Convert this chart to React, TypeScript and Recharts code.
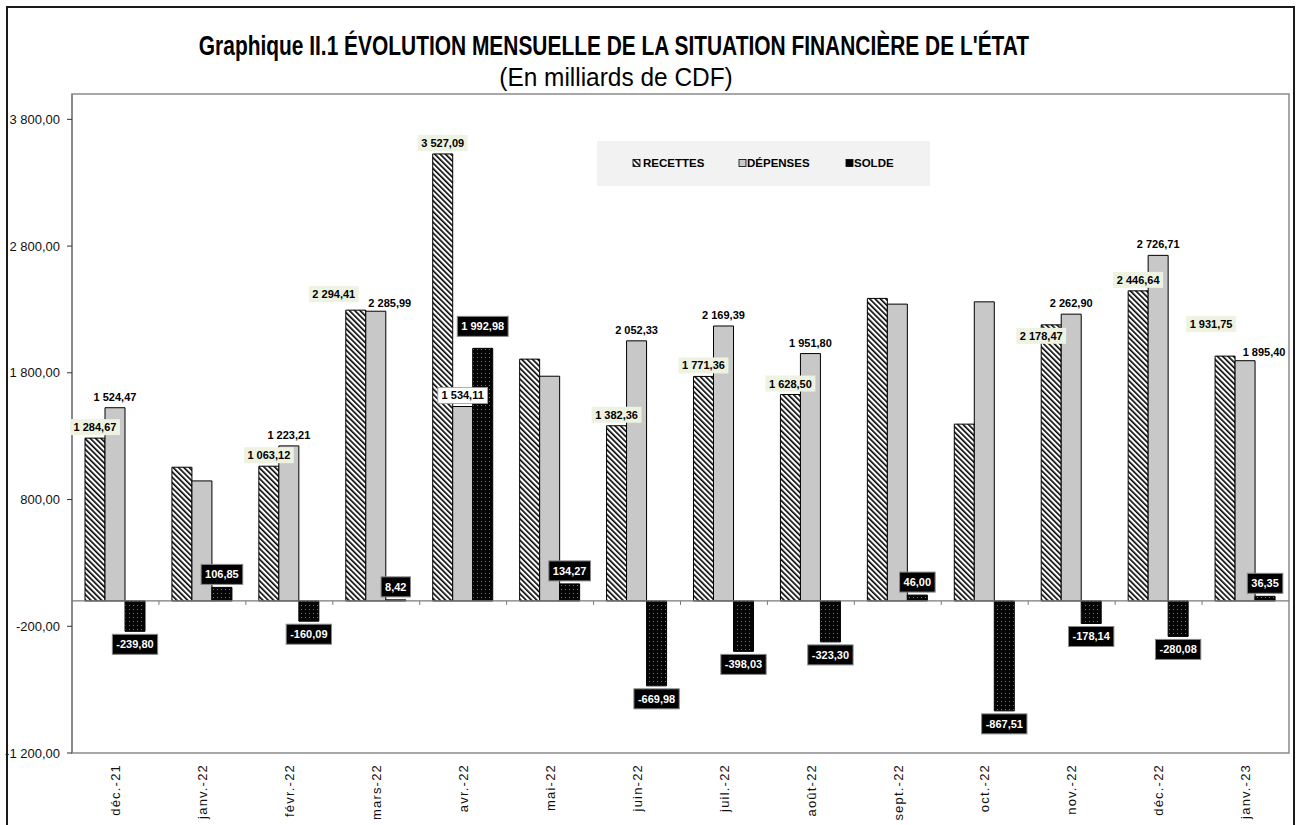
import React from 'react';
import { BarChart, Bar, XAxis, YAxis, ReferenceLine, ReferenceArea, LabelList } from 'recharts';

const months = ['déc.-21', 'janv.-22', 'févr.-22', 'mars-22', 'avr.-22', 'mai-22', 'juin-22', 'juil.-22', 'août-22', 'sept.-22', 'oct.-22', 'nov.-22', 'déc.-22', 'janv.-23'];
const recettes = [1284.67, 1055, 1063.12, 2294.41, 3527.09, 1908, 1382.36, 1771.36, 1628.5, 2387, 1395, 2178.47, 2446.64, 1931.75];
const depenses = [1524.47, 947, 1223.21, 2285.99, 1534.11, 1773, 2052.33, 2169.39, 1951.8, 2342, 2360, 2262.9, 2726.71, 1895.4];
const solde = [-239.8, 106.85, -160.09, 8.42, 1992.98, 134.27, -669.98, -398.03, -323.3, 46, -867.51, -178.14, -280.08, 36.35];
const showValueLabel = [true, false, true, true, true, false, true, true, true, false, false, true, true, true];
const yTicks = [-1200, -200, 800, 1800, 2800, 3800];
const yDomain = [-1200, 4000];
const seriesNames = ['RECETTES', 'DÉPENSES', 'SOLDE'];
const titleText = "Graphique II.1  ÉVOLUTION MENSUELLE DE LA SITUATION FINANCIÈRE DE L'ÉTAT";
const subtitleText = '(En milliards de CDF)';

// label layout adjustments (dx, dy) for crowded groups
const recLabelShift: Record<number, number[]> = { 3: [-22, -5], 11: [-10, 22], 13: [-14, -21] };
const depLabelShift: Record<number, number[]> = { 3: [14, 3], 13: [19, 2] };
const soldeLabelShift: Record<number, number[]> = { 4: [0, -9] };
const depLabelBoxed = [4];

const data = months.map((m, i) => ({ month: m, recettes: recettes[i], depenses: depenses[i], solde: solde[i] }));

const fmt = (v: number) => {
  const neg = v < 0;
  const [i, d] = Math.abs(v).toFixed(2).split('.');
  return (neg ? '-' : '') + i.replace(/\B(?=(\d{3})+(?!\d))/g, ' ') + ',' + d;
};

const SANS = "'Liberation Sans', Arial, sans-serif";

// approximate width of Liberation Sans Bold 11px
const textW = (s: string) => {
  let w = 0;
  for (const c of s) {
    if (c >= '0' && c <= '9') w += 6.12;
    else if (c === '-') w += 3.66;
    else w += 3.06;
  }
  return w;
};

const labelStyle: React.CSSProperties = { fontFamily: SANS, fontSize: 11, fontWeight: 700 };

const RecLabel = (props: any) => {
  const { x, y, width, height, index, value } = props;
  if (!showValueLabel[index]) return null;
  const top = Math.min(y, y + height);
  const [dx, dy] = recLabelShift[index] || [0, 0];
  const txt = fmt(Number(value));
  const w = textW(txt) + 7;
  const h = 16;
  const cx = x + width / 2 + dx;
  const cy = top - 3 - h / 2 + dy;
  return (
    <g>
      <rect x={cx - w / 2} y={cy - h / 2} width={w} height={h} fill="#eef2e0" />
      <text x={cx} y={cy} dy="0.36em" textAnchor="middle" fill="#000" style={labelStyle}>{txt}</text>
    </g>
  );
};

const DepLabel = (props: any) => {
  const { x, y, width, height, index, value } = props;
  if (!showValueLabel[index]) return null;
  const top = Math.min(y, y + height);
  const [dx, dy] = depLabelShift[index] || [0, 0];
  const txt = fmt(Number(value));
  const w = textW(txt) + 7;
  const h = 16;
  const cx = x + width / 2 + dx;
  const cy = top - 3 - h / 2 + dy;
  const boxed = depLabelBoxed.includes(index);
  return (
    <g>
      {boxed && <rect x={cx - w / 2} y={cy - h / 2} width={w} height={h} fill="#fff" stroke="#999" strokeWidth={0.8} />}
      <text x={cx} y={cy} dy="0.36em" textAnchor="middle" fill="#000" style={labelStyle}>{txt}</text>
    </g>
  );
};

const SoldeLabel = (props: any) => {
  const { x, y, width, height, index, value } = props;
  const v = Number(value);
  const top = Math.min(y, y + height);
  const bottom = Math.max(y, y + height);
  const [dx, dy] = soldeLabelShift[index] || [0, 0];
  const txt = fmt(v);
  const w = textW(txt) + 8;
  const h = 20;
  const cx = x + width / 2 + dx;
  const cy = (v >= 0 ? top - 3 - h / 2 : bottom + 3 + h / 2) + dy;
  return (
    <g>
      <rect x={cx - w / 2} y={cy - h / 2} width={w} height={h} fill="#000" stroke="#888" strokeWidth={1} />
      <text x={cx} y={cy} dy="0.36em" textAnchor="middle" fill="#fff" style={labelStyle}>{txt}</text>
    </g>
  );
};

const ZeroAxis = (props: any) => {
  const { x1, y1, x2, y2 } = props;
  const n = months.length;
  const step = (x2 - x1) / n;
  return (
    <g>
      <line x1={x1} y1={y1} x2={x2} y2={y2} stroke="#7a7a7a" strokeWidth={1.3} />
      {Array.from({ length: n - 1 }, (_, i) => {
        const xx = x1 + step * (i + 1);
        return <line key={i} x1={xx} x2={xx} y1={y1} y2={y1 + 4} stroke="#7a7a7a" strokeWidth={1} />;
      })}
    </g>
  );
};

const XTick = (props: any) => {
  const { x, y, payload } = props;
  return (
    <text transform={`translate(${x},${y}) rotate(-90)`} textAnchor="end" dy="0.36em" fill="#111"
      style={{ fontFamily: SANS, fontSize: 13, letterSpacing: 1.2 }}>{payload.value}</text>
  );
};

const Patterns = ({ p }: { p: string }) => (
  <defs>
    <pattern id={`${p}hatch`} patternUnits="userSpaceOnUse" width="3.8" height="3.8" patternTransform="rotate(-45)">
      <rect x="0" y="0" width="3.8" height="3.8" fill="#fff" />
      <rect x="0" y="0" width="1.6" height="3.8" fill="#000" />
    </pattern>
    <pattern id={`${p}dots`} patternUnits="userSpaceOnUse" width="4" height="4">
      <rect x="0" y="0" width="4" height="4" fill="#050505" />
      <rect x="1" y="1" width="1" height="1" fill="#777" />
    </pattern>
  </defs>
);

export default function App() {
  const legendItems = [
    { name: seriesNames[0], fill: 'url(#lghatch)', ix: 633, tx: 643 },
    { name: seriesNames[1], fill: '#c8c8c8', ix: 739, tx: 747 },
    { name: seriesNames[2], fill: '#000', ix: 846, tx: 854 },
  ];
  return (
    <div style={{ position: 'absolute', left: 0, top: 0, width: 1300, height: 825, background: '#fff', overflow: 'hidden' }}>
      <BarChart width={1300} height={825} data={data} margin={{ top: 94, right: 11, bottom: 0, left: 0 }}
        barSize={20} barGap={0} style={{ fontFamily: SANS }}>
        <Patterns p="ch" />
        <ReferenceArea y1={yDomain[0]} y2={yDomain[1]} fill="none" stroke="#8c8c8c" strokeWidth={1.5} ifOverflow="visible" />
        <XAxis dataKey="month" height={72} axisLine={false} tickLine={false} tickSize={0} tickMargin={11}
          tick={<XTick />} interval={0} />
        <YAxis width={72} domain={yDomain} ticks={yTicks} type="number" allowDataOverflow
          tickFormatter={(v: number) => fmt(v)} axisLine={{ stroke: '#7a7a7a', strokeWidth: 1.3 }}
          tickLine={{ stroke: '#333' }} tickSize={5} tickMargin={7}
          tick={{ fill: '#111', fontSize: 13, fontFamily: SANS }} />
        <Bar dataKey="recettes" name={seriesNames[0]} fill="url(#chhatch)" stroke="#000" strokeWidth={1} isAnimationActive={false}>
          <LabelList dataKey="recettes" content={<RecLabel />} />
        </Bar>
        <Bar dataKey="depenses" name={seriesNames[1]} fill="#c8c8c8" stroke="#000" strokeWidth={1} isAnimationActive={false}>
          <LabelList dataKey="depenses" content={<DepLabel />} />
        </Bar>
        <Bar dataKey="solde" name={seriesNames[2]} fill="url(#chdots)" stroke="#000" strokeWidth={1} isAnimationActive={false}>
          <LabelList dataKey="solde" content={<SoldeLabel />} />
        </Bar>
        <ReferenceLine y={0} shape={<ZeroAxis />} ifOverflow="visible" />
      </BarChart>
      <svg width={1300} height={825} style={{ position: 'absolute', left: 0, top: 0, pointerEvents: 'none' }}>
        <Patterns p="lg" />
        <rect x={7} y={7} width={1287} height={830} fill="none" stroke="#1a1a1a" strokeWidth={2} />
        <text transform="translate(614,55) scale(0.775,1)" textAnchor="middle"
          style={{ fontFamily: SANS, fontSize: 27, fontWeight: 700 }} fill="#000">{titleText}</text>
        <text transform="translate(616,86) scale(0.94,1)" textAnchor="middle"
          style={{ fontFamily: SANS, fontSize: 26 }} fill="#000">{subtitleText}</text>
        <rect x={597} y={141} width={333} height={45} fill="#f2f2f2" />
        {legendItems.map((it) => (
          <g key={it.name}>
            <rect x={it.ix} y={159.5} width={7} height={7} fill={it.fill} stroke="#000" strokeWidth={0.8} />
            <text x={it.tx} y={163} dy="0.36em" style={{ fontFamily: SANS, fontSize: 11.5, fontWeight: 700 }} fill="#000">{it.name}</text>
          </g>
        ))}
      </svg>
    </div>
  );
}
